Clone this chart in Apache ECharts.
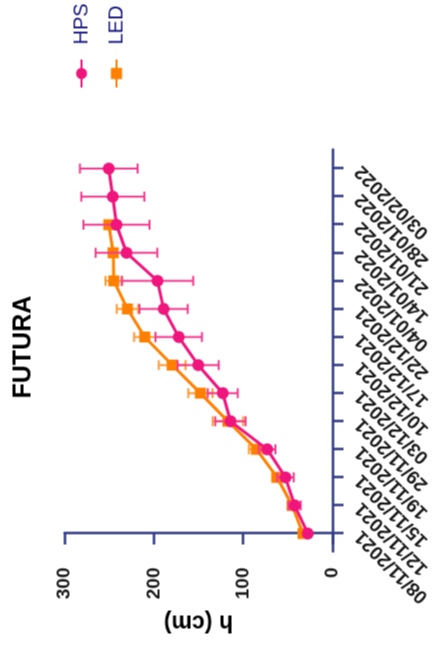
<!DOCTYPE html>
<html>
<head>
<meta charset="utf-8">
<script src="https://cdn.jsdelivr.net/npm/echarts@6/dist/echarts.min.js"></script>
<style>
  html, body { margin: 0; padding: 0; background: #fff; overflow: hidden; }
  body { width: 434px; height: 653px; position: relative; }
  #chart { position: absolute; width: 653px; height: 434px; left: -109.5px; top: 109.5px; transform: rotate(-90deg); transform-origin: 50% 50%; }
</style>
</head>
<body>
<div id="chart"></div>
<script>
// ---- data ----
const dates = ['08/11/2021','12/11/2021','15/11/2021','19/11/2021','29/11/2021','03/12/2021','10/12/2021','17/12/2021','22/12/2021','04/01/2022','14/01/2022','21/01/2022','28/01/2022','03/02/2022'];
const hpsMean = [27.6, 42.2, 52.6, 73.1, 114.2, 122.8, 150.3, 172.1, 189, 195.9, 230.6, 241.8, 245.9, 250.4];
const hpsErr  = [2, 6.7, 9.3, 9.3, 17, 16.8, 23, 26, 27, 40, 34.5, 37, 35.3, 32.3];
const ledMean = [33, 45.1, 61.9, 85.1, 117, 147.8, 179.4, 210.1, 229.5, 244.8, 245.5, 250.4, null, null];
const ledErr  = [2, 4.5, 5.6, 8.4, 17, 13.6, 15, 12, 12, 9.3, 5, 4, null, null];
const yTicks = [0, 100, 200, 300];

const FONT = "'Liberation Sans', Arial, sans-serif";
const AXIS = '#343C86';
const PINK = '#F0157D', PINK_ERR = '#F23A8E';
const ORANGE = '#FF8000', ORANGE_ERR = '#FF9A33';

const idx = dates.map((d, i) => i);
function pts(mean) { return mean.map((v, i) => v == null ? null : [i, v]).filter(Boolean); }
function errs(mean, err) { return mean.map((v, i) => v == null ? null : [i, v - err[i], v + err[i]]).filter(Boolean); }
function errRender(color) {
  return function (params, api) {
    const x = api.value(0);
    const lo = api.coord([x, api.value(1)]);
    const hi = api.coord([x, api.value(2)]);
    const hw = 5;
    const st = { stroke: color, lineWidth: 2 };
    return { type: 'group', children: [
      { type: 'line', shape: { x1: lo[0], y1: lo[1], x2: hi[0], y2: hi[1] }, style: st },
      { type: 'line', shape: { x1: lo[0] - hw, y1: lo[1], x2: lo[0] + hw, y2: lo[1] }, style: st },
      { type: 'line', shape: { x1: hi[0] - hw, y1: hi[1], x2: hi[0] + hw, y2: hi[1] }, style: st }
    ]};
  };
}

const chart = echarts.init(document.getElementById('chart'), null, { renderer: 'canvas' });
chart.setOption({
  animation: false,
  backgroundColor: '#fff',
  textStyle: { fontFamily: FONT },
  title: { text: 'FUTURA', left: 250, top: 6, textStyle: { fontFamily: FONT, fontSize: 25, fontWeight: 'bold', color: '#000' } },
  legend: {
    orient: 'vertical', left: 560, top: 66, itemWidth: 28, itemHeight: 14, itemGap: 15,
    data: ['HPS', 'LED'],
    textStyle: { fontFamily: FONT, fontSize: 20, color: '#14147F', padding: [0, 0, 0, 10] }
  },
  grid: { left: 102, right: 149, top: 64, bottom: 102, containLabel: false },
  xAxis: {
    type: 'value', min: -0.64, max: 13.68,
    axisLine: { show: true, lineStyle: { color: AXIS, width: 2.5 } },
    axisTick: { show: true, length: 11, lineStyle: { color: AXIS, width: 2.5 }, customValues: idx },
    splitLine: { show: false },
    axisLabel: { customValues: idx, rotate: 45, margin: 26, fontFamily: FONT, fontSize: 19, fontWeight: 'bold', color: '#1a1a1a',
      formatter: v => dates[Math.round(v)] }
  },
  yAxis: {
    type: 'value', min: 0, max: 300, interval: 100,
    name: 'h (cm)', nameLocation: 'middle', nameGap: 56, nameRotate: 90,
    nameTextStyle: { fontFamily: FONT, fontSize: 23, fontWeight: 'bold', color: '#000' },
    axisLine: { show: true, lineStyle: { color: AXIS, width: 2.5 } },
    axisTick: { show: true, length: 11, lineStyle: { color: AXIS, width: 2.5 } },
    splitLine: { show: false },
    axisLabel: { margin: 16, fontFamily: FONT, fontSize: 19, fontWeight: 'bold', color: '#1a1a1a', formatter: v => yTicks.includes(v) ? String(v) : '' }
  },
  series: [
    { name: 'LED err', type: 'custom', renderItem: errRender(ORANGE_ERR), data: errs(ledMean, ledErr), z: 1, silent: true },
    { name: 'LED', type: 'line', data: pts(ledMean), symbol: 'rect', symbolSize: 11, z: 2,
      lineStyle: { color: ORANGE, width: 3 }, itemStyle: { color: ORANGE } },
    { name: 'HPS err', type: 'custom', renderItem: errRender(PINK_ERR), data: errs(hpsMean, hpsErr), z: 3, silent: true },
    { name: 'HPS', type: 'line', data: pts(hpsMean), symbol: 'circle', symbolSize: 12, z: 4,
      lineStyle: { color: PINK, width: 3 }, itemStyle: { color: PINK } }
  ]
});
</script>
</body>
</html>
